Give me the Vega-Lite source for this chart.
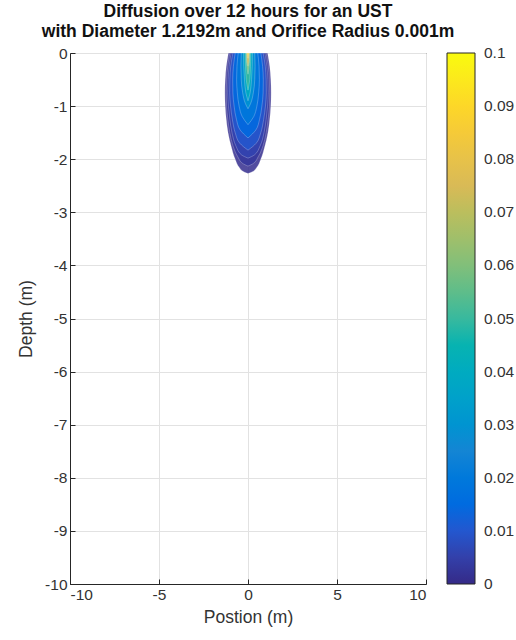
{
  "$schema": "https://vega.github.io/schema/vega-lite/v6.json",
  "autosize": "none",
  "width": 356,
  "height": 531,
  "padding": {"left": 70, "top": 53, "right": 90, "bottom": 56},
  "background": "white",
  "title": {
    "text": ["Diffusion over 12 hours for an UST", "with Diameter 1.2192m and Orifice Radius 0.001m"],
    "font": "Liberation Sans",
    "fontSize": 17.5,
    "fontWeight": "bold",
    "color": "#111111",
    "lineHeight": 20,
    "offset": 6,
    "anchor": "middle"
  },
  "config": {
    "font": "Liberation Sans",
    "view": {"stroke": "#262626", "strokeWidth": 1},
    "axis": {
      "labelFont": "Liberation Sans",
      "labelFontSize": 15.5,
      "labelColor": "#333333",
      "titleFont": "Liberation Sans",
      "titleFontSize": 17.5,
      "titleFontWeight": "normal",
      "titleColor": "#333333",
      "domainColor": "#262626",
      "gridColor": "#e2e2e2",
      "gridWidth": 1,
      "ticks": true,
      "tickColor": "#262626",
      "tickSize": -5,
      "labelPadding": 8,
      "labelExpr": "'' + datum.value"
    },
    "legend": {
      "labelFont": "Liberation Sans",
      "labelFontSize": 15.5,
      "labelColor": "#333333"
    }
  },
  "data": {
    "values": [
      {"level": 0.001, "y": 0, "xl": -1.1, "xr": 1.1},
      {"level": 0.001, "y": -0.25, "xl": -1.22, "xr": 1.22},
      {"level": 0.001, "y": -0.5, "xl": -1.28, "xr": 1.28},
      {"level": 0.001, "y": -0.75, "xl": -1.3, "xr": 1.3},
      {"level": 0.001, "y": -1.0, "xl": -1.28, "xr": 1.28},
      {"level": 0.001, "y": -1.25, "xl": -1.22, "xr": 1.22},
      {"level": 0.001, "y": -1.5, "xl": -1.12, "xr": 1.12},
      {"level": 0.001, "y": -1.75, "xl": -0.95, "xr": 0.95},
      {"level": 0.001, "y": -2.0, "xl": -0.72, "xr": 0.72},
      {"level": 0.001, "y": -2.15, "xl": -0.5, "xr": 0.5},
      {"level": 0.001, "y": -2.24, "xl": -0.22, "xr": 0.22},
      {"level": 0.001, "y": -2.27, "xl": 0, "xr": 0},

      {"level": 0.003, "y": 0, "xl": -1.02, "xr": 1.02},
      {"level": 0.003, "y": -0.25, "xl": -1.14, "xr": 1.14},
      {"level": 0.003, "y": -0.5, "xl": -1.2, "xr": 1.2},
      {"level": 0.003, "y": -0.75, "xl": -1.22, "xr": 1.22},
      {"level": 0.003, "y": -1.0, "xl": -1.2, "xr": 1.2},
      {"level": 0.003, "y": -1.25, "xl": -1.13, "xr": 1.13},
      {"level": 0.003, "y": -1.5, "xl": -1.02, "xr": 1.02},
      {"level": 0.003, "y": -1.75, "xl": -0.84, "xr": 0.84},
      {"level": 0.003, "y": -1.95, "xl": -0.58, "xr": 0.58},
      {"level": 0.003, "y": -2.08, "xl": -0.3, "xr": 0.3},
      {"level": 0.003, "y": -2.13, "xl": 0, "xr": 0},

      {"level": 0.006, "y": 0, "xl": -0.95, "xr": 0.95},
      {"level": 0.006, "y": -0.25, "xl": -1.06, "xr": 1.06},
      {"level": 0.006, "y": -0.5, "xl": -1.12, "xr": 1.12},
      {"level": 0.006, "y": -0.75, "xl": -1.14, "xr": 1.14},
      {"level": 0.006, "y": -1.0, "xl": -1.1, "xr": 1.1},
      {"level": 0.006, "y": -1.25, "xl": -1.02, "xr": 1.02},
      {"level": 0.006, "y": -1.5, "xl": -0.9, "xr": 0.9},
      {"level": 0.006, "y": -1.75, "xl": -0.68, "xr": 0.68},
      {"level": 0.006, "y": -1.92, "xl": -0.36, "xr": 0.36},
      {"level": 0.006, "y": -1.98, "xl": 0, "xr": 0},

      {"level": 0.01, "y": 0, "xl": -0.85, "xr": 0.85},
      {"level": 0.01, "y": -0.25, "xl": -0.97, "xr": 0.97},
      {"level": 0.01, "y": -0.5, "xl": -1.02, "xr": 1.02},
      {"level": 0.01, "y": -0.75, "xl": -1.03, "xr": 1.03},
      {"level": 0.01, "y": -1.0, "xl": -0.98, "xr": 0.98},
      {"level": 0.01, "y": -1.25, "xl": -0.88, "xr": 0.88},
      {"level": 0.01, "y": -1.5, "xl": -0.72, "xr": 0.72},
      {"level": 0.01, "y": -1.7, "xl": -0.46, "xr": 0.46},
      {"level": 0.01, "y": -1.83, "xl": 0, "xr": 0},

      {"level": 0.015, "y": 0, "xl": -0.72, "xr": 0.72},
      {"level": 0.015, "y": -0.25, "xl": -0.82, "xr": 0.82},
      {"level": 0.015, "y": -0.5, "xl": -0.86, "xr": 0.86},
      {"level": 0.015, "y": -0.75, "xl": -0.85, "xr": 0.85},
      {"level": 0.015, "y": -1.0, "xl": -0.78, "xr": 0.78},
      {"level": 0.015, "y": -1.25, "xl": -0.65, "xr": 0.65},
      {"level": 0.015, "y": -1.45, "xl": -0.44, "xr": 0.44},
      {"level": 0.015, "y": -1.6, "xl": 0, "xr": 0},

      {"level": 0.02, "y": 0, "xl": -0.55, "xr": 0.55},
      {"level": 0.02, "y": -0.25, "xl": -0.62, "xr": 0.62},
      {"level": 0.02, "y": -0.5, "xl": -0.64, "xr": 0.64},
      {"level": 0.02, "y": -0.75, "xl": -0.6, "xr": 0.6},
      {"level": 0.02, "y": -1.0, "xl": -0.5, "xr": 0.5},
      {"level": 0.02, "y": -1.2, "xl": -0.32, "xr": 0.32},
      {"level": 0.02, "y": -1.35, "xl": 0, "xr": 0},

      {"level": 0.03, "y": 0, "xl": -0.38, "xr": 0.38},
      {"level": 0.03, "y": -0.25, "xl": -0.4, "xr": 0.4},
      {"level": 0.03, "y": -0.5, "xl": -0.38, "xr": 0.38},
      {"level": 0.03, "y": -0.75, "xl": -0.3, "xr": 0.3},
      {"level": 0.03, "y": -0.95, "xl": -0.15, "xr": 0.15},
      {"level": 0.03, "y": -1.05, "xl": 0, "xr": 0},

      {"level": 0.04, "y": 0, "xl": -0.25, "xr": 0.25},
      {"level": 0.04, "y": -0.25, "xl": -0.24, "xr": 0.24},
      {"level": 0.04, "y": -0.5, "xl": -0.2, "xr": 0.2},
      {"level": 0.04, "y": -0.75, "xl": -0.12, "xr": 0.12},
      {"level": 0.04, "y": -0.9, "xl": 0, "xr": 0},

      {"level": 0.05, "y": 0, "xl": -0.16, "xr": 0.16},
      {"level": 0.05, "y": -0.25, "xl": -0.14, "xr": 0.14},
      {"level": 0.05, "y": -0.5, "xl": -0.1, "xr": 0.1},
      {"level": 0.05, "y": -0.7, "xl": 0, "xr": 0},

      {"level": 0.06, "y": 0, "xl": -0.1, "xr": 0.1},
      {"level": 0.06, "y": -0.2, "xl": -0.08, "xr": 0.08},
      {"level": 0.06, "y": -0.4, "xl": 0, "xr": 0},

      {"level": 0.075, "y": 0, "xl": -0.07, "xr": 0.07},
      {"level": 0.075, "y": -0.15, "xl": -0.05, "xr": 0.05},
      {"level": 0.075, "y": -0.25, "xl": 0, "xr": 0},

      {"level": 0.09, "y": 0, "xl": -0.04, "xr": 0.04},
      {"level": 0.09, "y": -0.1, "xl": 0, "xr": 0}
    ]
  },
  "mark": {
    "type": "area",
    "orient": "horizontal",
    "interpolate": "monotone",
    "fillOpacity": 0.85,
    "stroke": "#ffffff",
    "strokeOpacity": 0.35,
    "strokeWidth": 0.7
  },
  "encoding": {
    "y": {
      "field": "y",
      "type": "quantitative",
      "scale": {"domain": [-10, 0], "nice": false, "zero": false},
      "axis": {"values": [0, -1, -2, -3, -4, -5, -6, -7, -8, -9, -10], "title": "Depth (m)", "titlePadding": 9}
    },
    "x": {
      "field": "xl",
      "type": "quantitative",
      "scale": {"domain": [-10, 10], "nice": false},
      "axis": {"values": [-10, -5, 0, 5, 10], "title": "Postion (m)", "titlePadding": 6}
    },
    "x2": {"field": "xr"},
    "detail": {"field": "level", "type": "nominal"},
    "fill": {
      "field": "level",
      "type": "quantitative",
      "scale": {
        "domain": [0, 0.1],
        "range": ["#352a87", "#0363e1", "#1485d4", "#06a7c6", "#38b99e", "#92bf73", "#d9ba56", "#fcce2e", "#f9fb0e"]
      },
      "legend": {
        "title": null,
        "type": "gradient",
        "direction": "vertical",
        "gradientLength": 531,
        "gradientThickness": 28,
        "gradientStrokeColor": "#262626",
        "gradientStrokeWidth": 1,
        "values": [0, 0.01, 0.02, 0.03, 0.04, 0.05, 0.06, 0.07, 0.08, 0.09, 0.1],
        "labelExpr": "'' + datum.value",
        "labelOffset": 9,
        "offset": 21,
        "padding": 0,
        "encode": {"labels": {"update": {"baseline": {"value": "middle"}}}}
      }
    }
  }
}
